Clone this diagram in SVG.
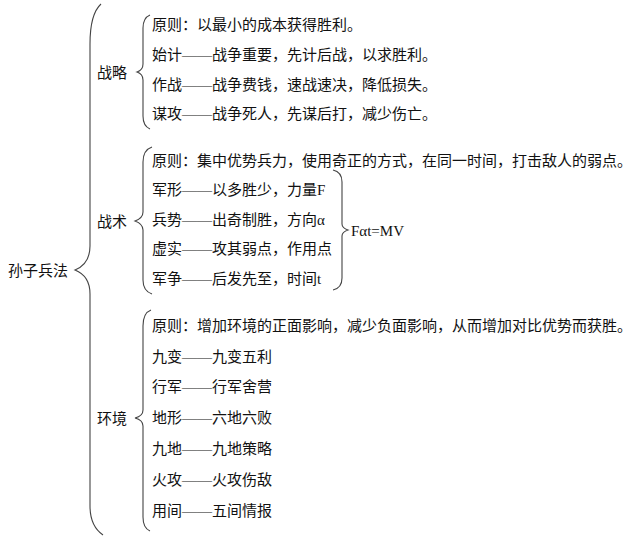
<svg xmlns="http://www.w3.org/2000/svg" width="640" height="546" viewBox="0 0 640 546">
<style>
text{font-family:"Liberation Serif","Noto Sans CJK SC",serif;font-size:15px;fill:#111}
.b{fill:none;stroke:#444;stroke-width:1.1}
</style>
<rect width="640" height="546" fill="#fff"/>
<g id="connectors">
<path class="b" d="M101,4 Q90,14 90,44 L90,246 Q90,264 75,270 Q90,276 90,294 L90,506 Q90,526 103,535"/>
<path class="b" d="M150,15 Q143,18 143,28 L143,64 Q143,70 137,72 Q143,74 143,80 L143,116 Q143,126 150,129"/>
<path class="b" d="M152,147 Q143,150 143,162 L143,212 Q143,218 135,221 Q143,224 143,230 L143,280 Q143,291 152,294"/>
<path class="b" d="M151,310 Q143,313 143,326 L143,410 Q143,416 135,418 Q143,420 143,426 L143,517 Q143,528 150,531"/>
<path class="b" d="M333,170 Q342,172 342,182 L342,224 Q342,228 348,230 Q342,232 342,236 L342,278 Q342,288 333,290"/>
</g>
<g id="root"><text x="8" y="276">孙子兵法</text></g>
<g id="zhanlue">
<text x="97" y="78">战略</text>
<text x="152" y="30">原则：以最小的成本获得胜利。</text>
<text x="152" y="60">始计——战争重要，先计后战，以求胜利。</text>
<text x="152" y="90">作战——战争费钱，速战速决，降低损失。</text>
<text x="152" y="119">谋攻——战争死人，先谋后打，减少伤亡。</text>
</g>
<g id="zhanshu">
<text x="97" y="227">战术</text>
<text x="152" y="166">原则：集中优势兵力，使用奇正的方式，在同一时间，打击敌人的弱点。</text>
<text x="152" y="195">军形——以多胜少，力量F</text>
<text x="152" y="225">兵势——出奇制胜，方向α</text>
<text x="152" y="254">虚实——攻其弱点，作用点</text>
<text x="152" y="284">军争——后发先至，时间t</text>
<text x="351" y="236">Fαt=MV</text>
</g>
<g id="huanjing">
<text x="97" y="424">环境</text>
<text x="152" y="331">原则：增加环境的正面影响，减少负面影响，从而增加对比优势而获胜。</text>
<text x="152" y="362">九变——九变五利</text>
<text x="152" y="392">行军——行军舍营</text>
<text x="152" y="423">地形——六地六败</text>
<text x="152" y="454">九地——九地策略</text>
<text x="152" y="485">火攻——火攻伤敌</text>
<text x="152" y="516">用间——五间情报</text>
</g>
</svg>
